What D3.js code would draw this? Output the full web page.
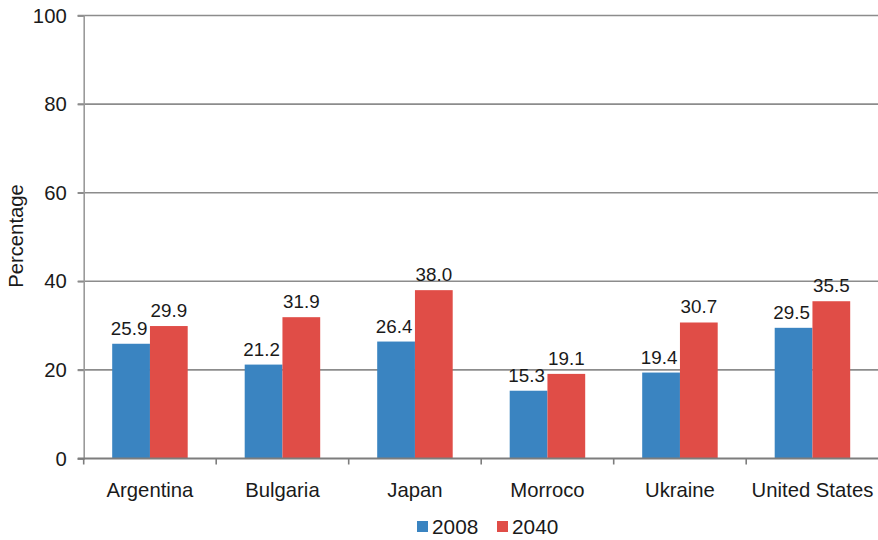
<!DOCTYPE html>
<html>
<head>
<meta charset="utf-8">
<script src="https://cdn.jsdelivr.net/npm/d3@7"></script>
<style>
  html, body { margin: 0; padding: 0; background: #fff; }
  svg { display: block; font-family: "Liberation Sans", Arial, sans-serif; }
</style>
</head>
<body>
<svg id="chart" width="878" height="540"></svg>
<script>
// Share of population (%) by country, 2008 vs projected 2040
const countries = ["Argentina", "Bulgaria", "Japan", "Morroco", "Ukraine", "United States"];
const years = ["2008", "2040"];
const values2008 = [25.9, 21.2, 26.4, 15.3, 19.4, 29.5];
const values2040 = [29.9, 31.9, 38.0, 19.1, 30.7, 35.5];
const yTicks = [0, 20, 40, 60, 80, 100];
const colors = ["#3a84c1", "#e04d47"];

const svg = d3.select("#chart");
const margin = { left: 83.7, right: 0, top: 15.5, bottom: 81.5 };
const W = 878, H = 540;
const fontSize = 20.3;

const x = d3.scaleBand().domain(countries).range([margin.left, margin.left + 795]).paddingInner(0).paddingOuter(0);
const y = d3.scaleLinear().domain([0, 100]).range([H - margin.bottom, margin.top]);
const groupPad = 28.5;
const x1 = d3.scaleBand().domain(years)
  .range([groupPad, x.bandwidth() - groupPad]);

// horizontal gridlines
svg.append("g").selectAll("line").data(yTicks.filter(d => d > 0)).join("line")
  .attr("x1", margin.left - 6).attr("x2", W)
  .attr("y1", d => y(d)).attr("y2", d => y(d))
  .attr("stroke", "#8c8c8c").attr("stroke-width", 1.6);

// y axis
const yAxis = svg.append("g").attr("transform", `translate(${margin.left},0)`)
  .call(d3.axisLeft(y).tickValues(yTicks).tickSize(6).tickPadding(11));
yAxis.select(".domain").attr("stroke", "#9a9a9a").attr("stroke-width", 1.6);
yAxis.selectAll(".tick line").attr("stroke", "#8c8c8c").attr("stroke-width", 1.6);
yAxis.selectAll(".tick text").attr("font-size", fontSize).attr("fill", "#1a1a1a")
  .attr("font-family", "Liberation Sans, Arial, sans-serif");

// bars
const series = [values2008, values2040];
const groups = svg.append("g").selectAll("g").data(countries).join("g")
  .attr("transform", d => `translate(${x(d)},0)`);

groups.selectAll("rect").data((c, i) => years.map((yr, k) => ({ yr, v: series[k][i], k })))
  .join("rect")
  .attr("x", d => x1(d.yr))
  .attr("width", x1.bandwidth())
  .attr("y", d => y(d.v))
  .attr("height", d => y(0) - y(d.v))
  .attr("fill", d => colors[d.k]);

groups.selectAll("text").data((c, i) => years.map((yr, k) => ({ yr, v: series[k][i], k })))
  .join("text")
  .attr("x", d => x1(d.yr) + x1.bandwidth() / 2 - (d.k === 0 ? 2 : 0))
  .attr("y", d => y(d.v) - 9)
  .attr("text-anchor", "middle")
  .attr("font-size", 18.8)
  .attr("fill", "#1a1a1a")
  .text(d => d.v.toFixed(1));

// x axis
const xAxis = svg.append("g").attr("transform", `translate(0,${y(0)})`)
  .call(d3.axisBottom(x).tickSize(0).tickPadding(24));
xAxis.select(".domain").remove();
svg.append("line").attr("x1", margin.left - 6).attr("x2", W)
  .attr("y1", y(0)).attr("y2", y(0))
  .attr("stroke", "#7d7d7d").attr("stroke-width", 1.8);
xAxis.selectAll(".tick text").attr("font-size", fontSize).attr("fill", "#1a1a1a")
  .attr("font-family", "Liberation Sans, Arial, sans-serif");

// category boundary ticks
const bounds = countries.map(c => x(c));
svg.append("g").selectAll("line").data(bounds).join("line")
  .attr("x1", d => d).attr("x2", d => d)
  .attr("y1", y(0)).attr("y2", y(0) + 6)
  .attr("stroke", "#7d7d7d").attr("stroke-width", 1.6);

// y axis title
svg.append("text")
  .attr("transform", `translate(23,236) rotate(-90)`)
  .attr("text-anchor", "middle")
  .attr("font-size", fontSize)
  .attr("fill", "#1a1a1a")
  .text("Percentage");

// legend
const legend = svg.append("g").attr("transform", "translate(417,527)");
const legendX = [0, 80];
years.forEach((yr, k) => {
  legend.append("rect").attr("x", legendX[k]).attr("y", -6).attr("width", 11).attr("height", 11)
    .attr("fill", colors[k]);
  legend.append("text").attr("x", legendX[k] + 15).attr("y", 7)
    .attr("font-size", 20.8).attr("fill", "#1a1a1a").text(yr);
});
</script>
</body>
</html>
